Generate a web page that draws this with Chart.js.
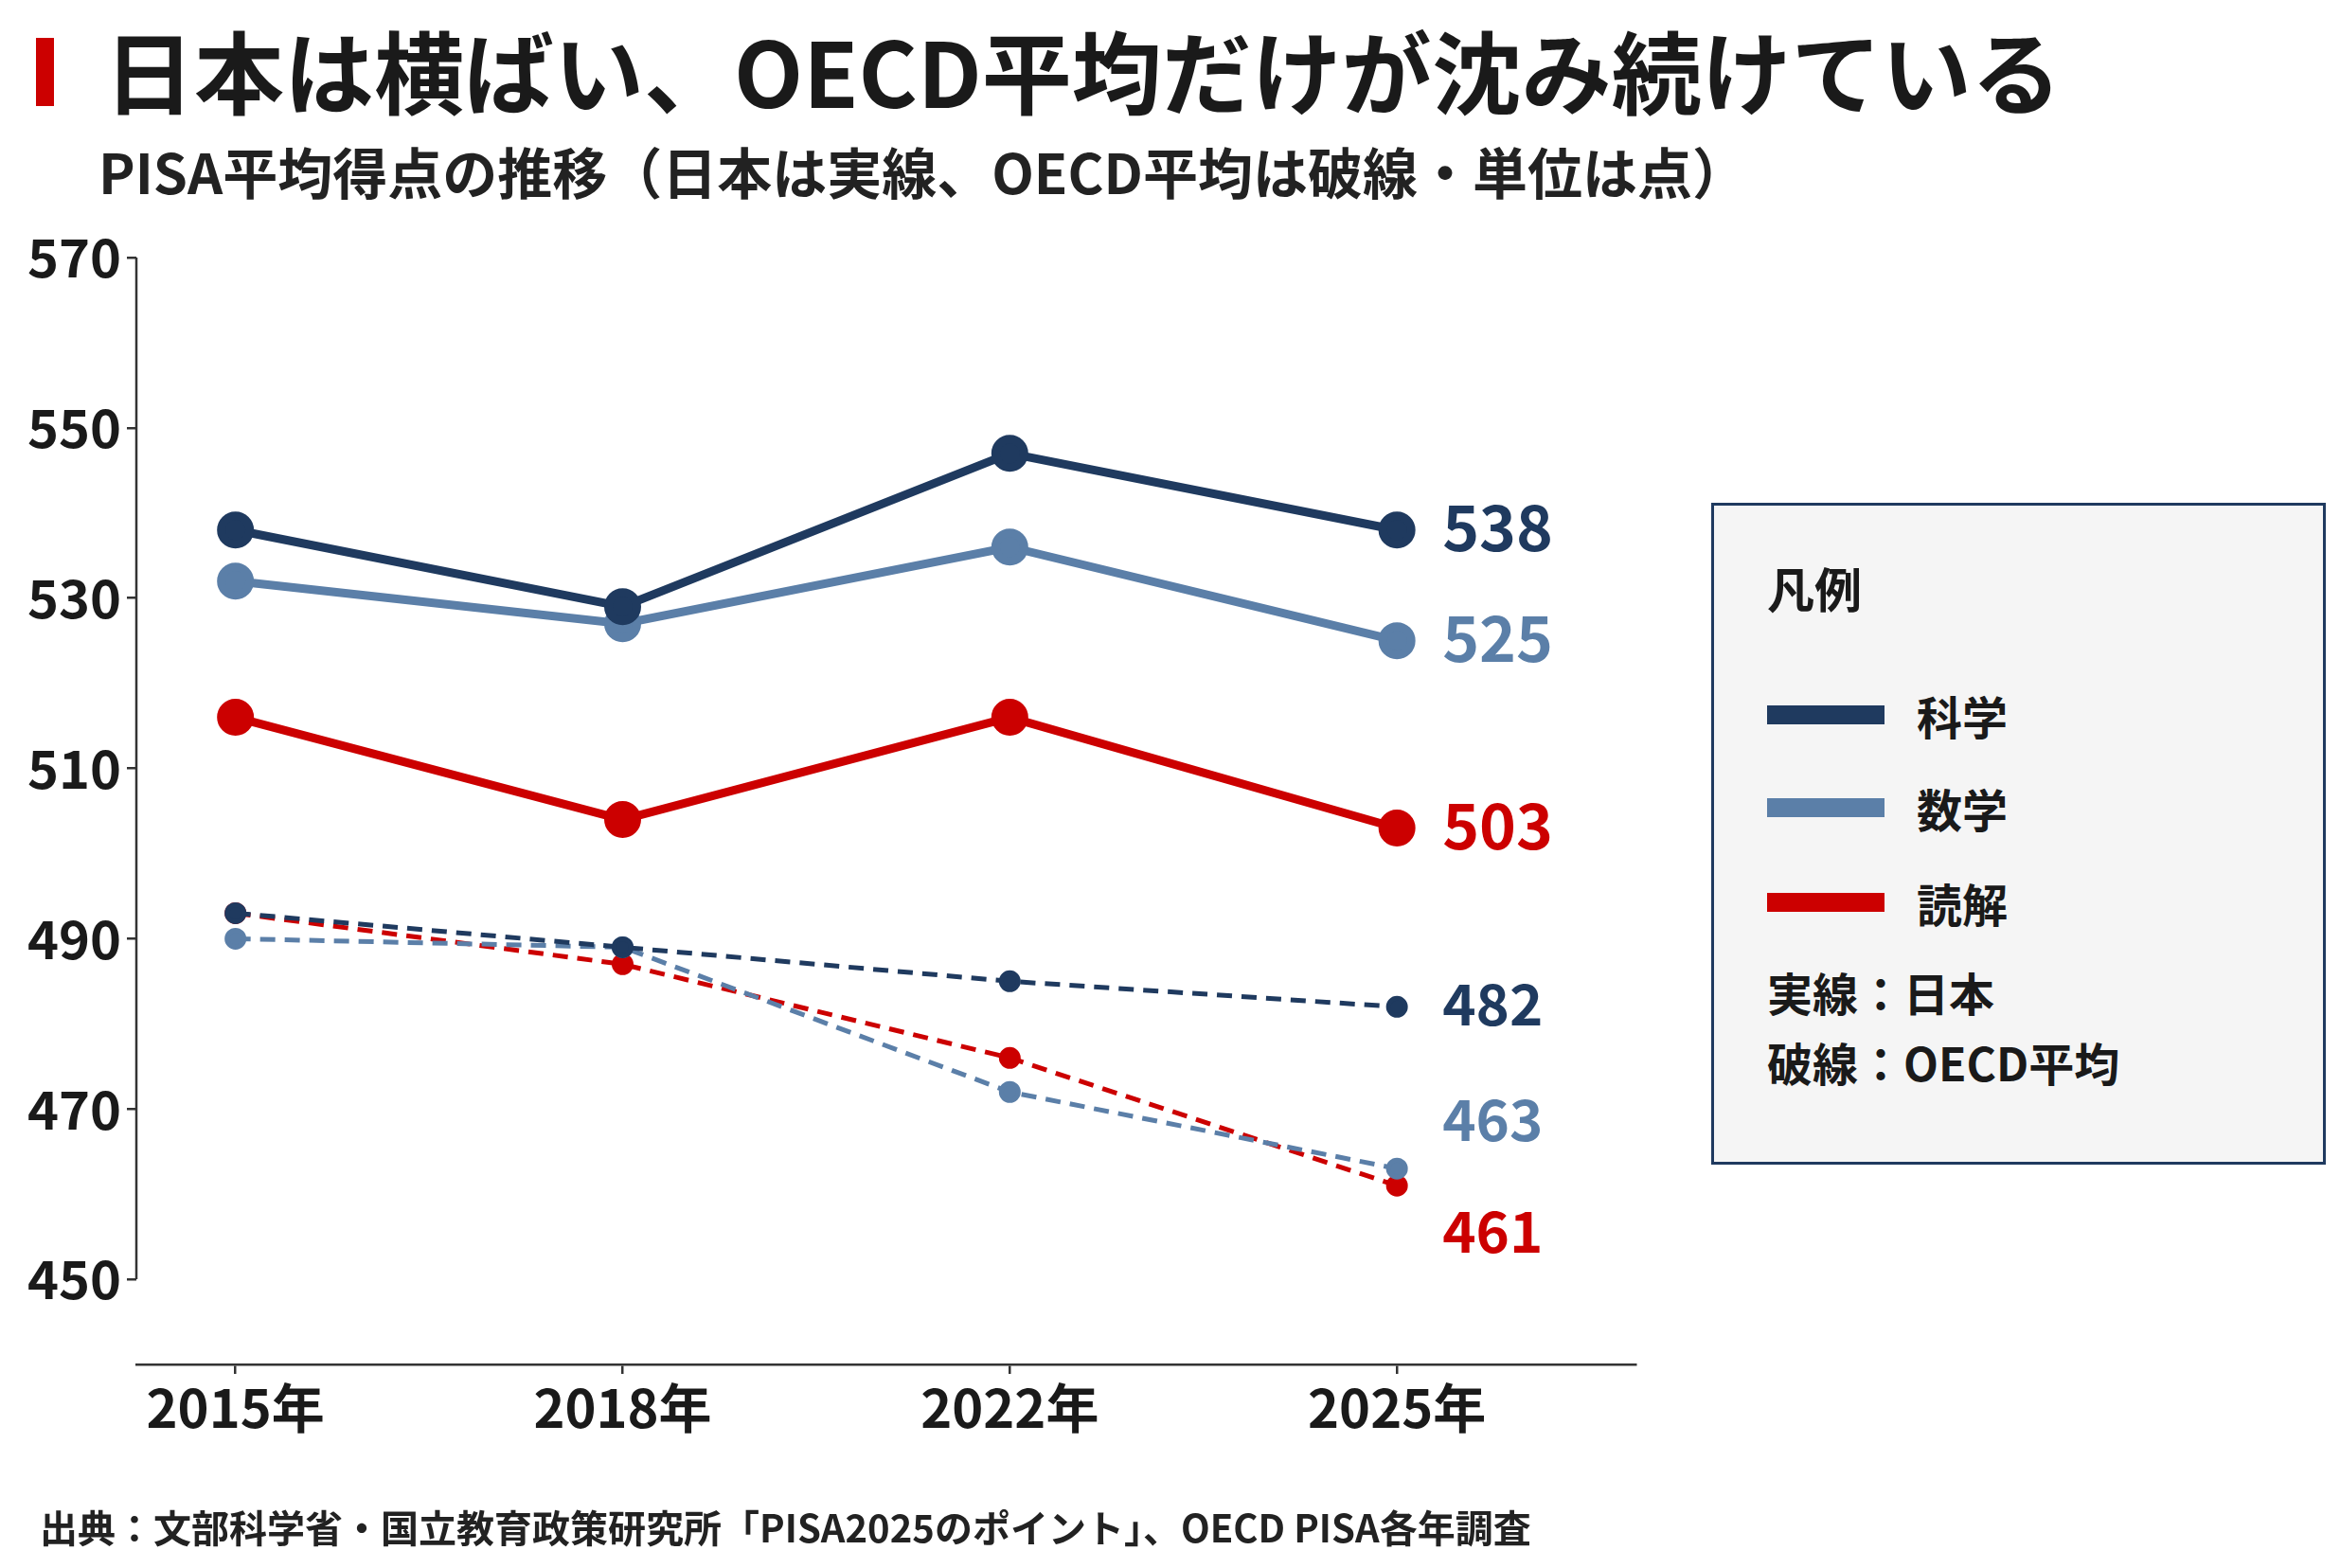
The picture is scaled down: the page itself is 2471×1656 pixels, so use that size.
<!DOCTYPE html>
<html><head><meta charset="utf-8">
<script src="https://cdn.jsdelivr.net/npm/chart.js@4"></script>
<style>
body{margin:0;background:#fff;font-family:"Noto Sans CJK JP",sans-serif;color:#1a1a1a}
#wrap{position:relative;width:2471px;height:1656px}
.abs{position:absolute;white-space:nowrap}
canvas{position:absolute;left:0;top:0}
</style></head><body>
<div id="wrap">
<canvas id="c" width="2471" height="1656"></canvas>
<div class="abs" style="left:38px;top:40px;width:19px;height:72px;background:#cc0000"></div>
<div class="abs" style="left:110px;top:8px;font-size:95px;font-weight:700;line-height:130px">日本は横ばい、OECD平均だけが沈み続けている</div>
<div class="abs" style="left:104px;top:140px;font-size:58px;font-weight:700;line-height:80px;color:#222">PISA平均得点の推移（日本は実線、OECD平均は破線・単位は点）</div>
<div class="abs" style="left:42px;top:1586px;font-size:40px;font-weight:700;line-height:52px;color:#222">出典：文部科学省・国立教育政策研究所「PISA2025のポイント」、OECD PISA各年調査</div>
<div class="abs" style="left:1807px;top:531px;width:643px;height:693px;background:#f5f5f5;border:3px solid #1f3a5f"></div>
<div class="abs" style="left:1866px;top:588px;font-size:50px;font-weight:700;line-height:64px">凡例</div>
<div class="abs" style="left:1866px;top:745px;width:124px;height:20px;background:#1f3a5f"></div>
<div class="abs" style="left:1866px;top:843px;width:124px;height:20px;background:#5b7fa8"></div>
<div class="abs" style="left:1866px;top:943px;width:124px;height:20px;background:#cc0000"></div>
<div class="abs" style="left:2024px;top:723px;font-size:48px;font-weight:700;line-height:64px">科学</div>
<div class="abs" style="left:2024px;top:821px;font-size:48px;font-weight:700;line-height:64px">数学</div>
<div class="abs" style="left:2024px;top:921px;font-size:48px;font-weight:700;line-height:64px">読解</div>
<div class="abs" style="left:1866px;top:1015px;font-size:48px;font-weight:700;line-height:64px">実線：日本</div>
<div class="abs" style="left:1866px;top:1089px;font-size:48px;font-weight:700;line-height:64px">破線：OECD平均</div>
</div>
<script>
const years=["2015年","2018年","2022年","2025年"];
const yTicks=[450,470,490,510,530,550,570];
const jpScience=[538,529,547,538];
const jpMath=[532,527,536,525];
const jpReading=[516,504,516,503];
const oecdScience=[493,489,485,482];
const oecdMath=[490,489,472,463];
const oecdReading=[493,487,476,461];
const endLabels=["538","525","503","482","463","461"];
const endLabelAt=[538,525,503,482,468.4,455.3];
const NAVY='#1f3a5f',BLUE='#5b7fa8',RED='#cc0000';
const colors=[NAVY,BLUE,RED,NAVY,BLUE,RED];
const pts=a=>a.map((v,i)=>({x:i,y:v}));
const jp=(d,c)=>({data:pts(d),borderColor:c,backgroundColor:c,borderWidth:9,pointRadius:15,pointHoverRadius:15});
const oe=(d,c)=>({data:pts(d),borderColor:c,backgroundColor:c,borderWidth:5,borderDash:[16,10],pointRadius:9,pointHoverRadius:9});
const F='"Noto Sans CJK JP",sans-serif';
const deco={id:'deco',afterDraw(ch){const {ctx,scales:{x,y}}=ch;ctx.save();
 ctx.strokeStyle='#333';ctx.lineWidth=2.5;ctx.beginPath();ctx.moveTo(x.left,y.getPixelForValue(570));ctx.lineTo(x.left,y.getPixelForValue(450));ctx.stroke();
 ctx.textBaseline='middle';ctx.textAlign='left';
 endLabels.forEach((t,i)=>{ctx.fillStyle=colors[i];ctx.font=(i<3?'700 66px ':'600 60px ')+F;ctx.fillText(t,x.getPixelForValue(3)+48,y.getPixelForValue(endLabelAt[i])-3);});
 ctx.restore();}};
new Chart(document.getElementById('c'),{type:'line',
 data:{datasets:[oe(oecdScience,NAVY),oe(oecdMath,BLUE),oe(oecdReading,RED),jp(jpScience,NAVY),jp(jpMath,BLUE),jp(jpReading,RED)]},
 options:{responsive:false,animation:false,devicePixelRatio:1,
  layout:{padding:{top:272,right:744,left:0,bottom:0}},
  plugins:{legend:{display:false},tooltip:{enabled:false}},
  scales:{
   x:{type:'linear',min:-0.256,max:3.616,afterBuildTicks:s=>{s.ticks=years.map((_,i)=>({value:i}));},
      ticks:{callback:v=>years[v],color:'#1a1a1a',font:{family:F,size:56,weight:'700'},padding:2,maxRotation:0,autoSkip:false},
      grid:{drawOnChartArea:false,tickLength:10,color:'#333',lineWidth:2.5},border:{display:true,color:'#333',width:2.5},
      afterFit:s=>{s.height=215;}},
   y:{min:440,max:570,afterBuildTicks:s=>{s.ticks=yTicks.map(v=>({value:v}));},
      ticks:{color:'#1a1a1a',font:{family:F,size:56,weight:'700'},padding:6},
      grid:{drawOnChartArea:false,tickLength:10,color:'#333',lineWidth:2.5},border:{display:false},
      afterFit:s=>{s.width=144;}}
  }},plugins:[deco]});
</script></body></html>
